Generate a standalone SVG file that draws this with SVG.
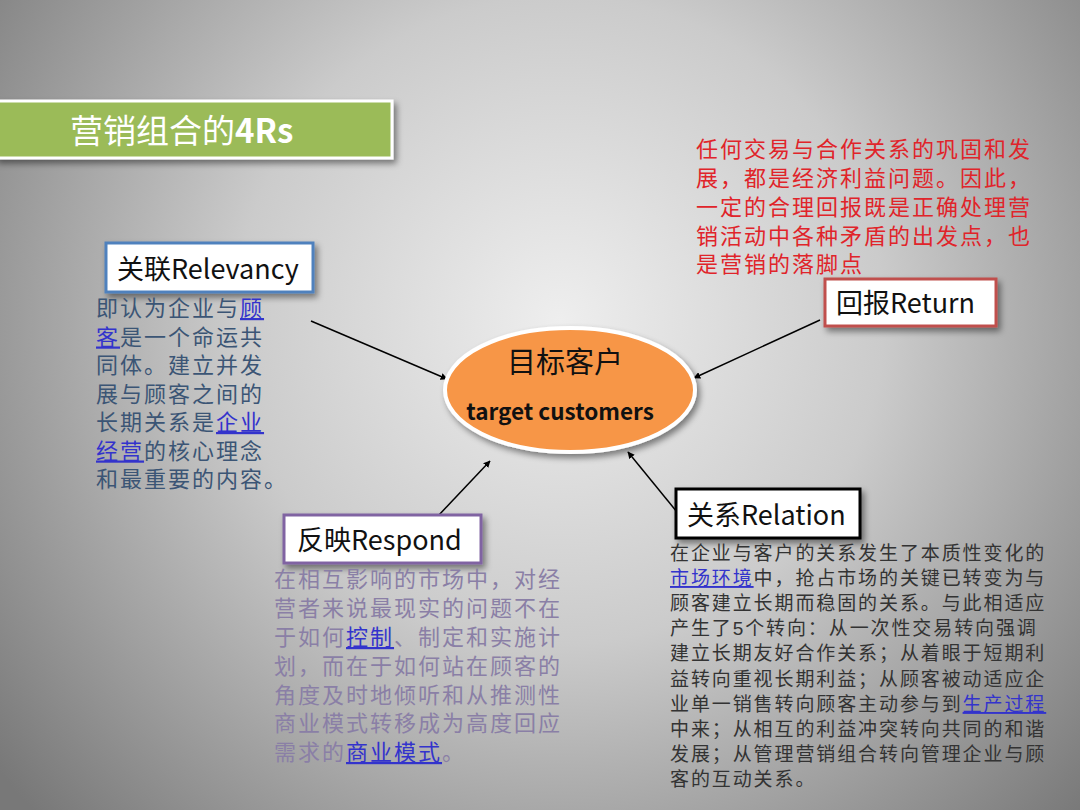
<svg xmlns="http://www.w3.org/2000/svg" width="1080" height="810" viewBox="0 0 1080 810">
<defs>
<radialGradient id="bg" gradientUnits="userSpaceOnUse" cx="560" cy="320" r="720">
<stop offset="0" stop-color="#eeeeee"/>
<stop offset="0.45" stop-color="#cbcbcb"/>
<stop offset="1" stop-color="#787878"/>
</radialGradient>
<filter id="sh" x="-10%" y="-10%" width="130%" height="140%">
<feDropShadow dx="3" dy="4" stdDeviation="3" flood-color="#000" flood-opacity="0.45"/>
</filter>
<marker id="ah" viewBox="0 0 10 10" refX="9" refY="5" markerWidth="7" markerHeight="7" orient="auto" markerUnits="userSpaceOnUse">
<path d="M0,0 L10,5 L0,10 z" fill="#000"/>
</marker>
<style>
.cjk{font-family:"Noto Sans CJK SC","Noto Sans",sans-serif;}
.lbl{font-family:"Noto Sans CJK SC","Noto Sans",sans-serif;font-size:27px;fill:#111;}
.box{fill:#fff;stroke-width:3;}
.body{font-family:"Liberation Sans","Noto Sans CJK SC",sans-serif;font-size:22px;letter-spacing:2px;}
.rel{font-family:"Liberation Sans","Noto Sans CJK SC",sans-serif;font-size:19px;letter-spacing:1.9px;fill:#333;}
.lnk{fill:#3333cc;text-decoration:underline;}
.con{stroke:#000;stroke-width:1.5;fill:none;marker-end:url(#ah);}
</style>
</defs>
<rect width="1080" height="810" fill="url(#bg)"/>

<g id="title">
<rect x="-4" y="101" width="396" height="57" fill="#9bbb59" stroke="#fff" stroke-width="3" filter="url(#sh)"/>
<text x="70" y="143" class="cjk" font-size="33" fill="#fff">营销组合的<tspan font-weight="bold">4Rs</tspan></text>
</g>

<g id="connectors">
<line class="con" x1="311" y1="321" x2="447" y2="379"/>
<line class="con" x1="820" y1="320" x2="694" y2="378"/>
<line class="con" x1="438" y1="516" x2="490" y2="461"/>
<line class="con" x1="677" y1="512" x2="628" y2="452"/>
</g>

<g id="target">
<ellipse cx="570" cy="390" rx="125" ry="62" fill="#f79646" stroke="#fff" stroke-width="4" filter="url(#sh)"/>
<text x="565" y="373" class="cjk" font-size="29" fill="#111" text-anchor="middle">目标客户</text>
<text x="560" y="420" class="cjk" font-size="22.5" font-weight="bold" fill="#111" text-anchor="middle">target customers</text>
</g>

<g id="relevancy">
<rect x="106" y="243" width="207" height="49" class="box" stroke="#4f81bd" filter="url(#sh)"/>
<text x="117" y="279" class="lbl">关联Relevancy</text>
<text class="body" fill="#3b5575">
<tspan x="96" y="316">即认为企业与<tspan class="lnk">顾</tspan></tspan>
<tspan x="96" y="344.5"><tspan class="lnk">客</tspan>是一个命运共</tspan>
<tspan x="96" y="373">同体。建立并发</tspan>
<tspan x="96" y="401.5">展与顾客之间的</tspan>
<tspan x="96" y="430">长期关系是<tspan class="lnk">企业</tspan></tspan>
<tspan x="96" y="458.5"><tspan class="lnk">经营</tspan>的核心理念</tspan>
<tspan x="96" y="487">和最重要的内容。</tspan>
</text>
</g>

<g id="return">
<text class="body" fill="#e0242a">
<tspan x="696" y="157">任何交易与合作关系的巩固和发</tspan>
<tspan x="696" y="186">展，都是经济利益问题。因此，</tspan>
<tspan x="696" y="215">一定的合理回报既是正确处理营</tspan>
<tspan x="696" y="244">销活动中各种矛盾的出发点，也</tspan>
<tspan x="696" y="272">是营销的落脚点</tspan>
</text>
<rect x="825" y="279" width="171" height="47" class="box" stroke="#c0504d" filter="url(#sh)"/>
<text x="836" y="313" class="lbl">回报Return</text>
</g>

<g id="respond">
<rect x="284" y="515" width="197" height="48" class="box" stroke="#8064a2" filter="url(#sh)"/>
<text x="297" y="550" class="lbl">反映Respond</text>
<text class="body" fill="#8a7fa6">
<tspan x="274" y="587">在相互影响的市场中，对经</tspan>
<tspan x="274" y="616">营者来说最现实的问题不在</tspan>
<tspan x="274" y="645">于如何<tspan class="lnk">控制</tspan>、制定和实施计</tspan>
<tspan x="274" y="674">划，而在于如何站在顾客的</tspan>
<tspan x="274" y="703">角度及时地倾听和从推测性</tspan>
<tspan x="274" y="731">商业模式转移成为高度回应</tspan>
<tspan x="274" y="760">需求的<tspan class="lnk">商业模式</tspan>。</tspan>
</text>
</g>

<g id="relation">
<rect x="676" y="489" width="184" height="49" class="box" stroke="#000" filter="url(#sh)"/>
<text x="687" y="525" class="lbl">关系Relation</text>
<text class="rel">
<tspan x="670" y="560">在企业与客户的关系发生了本质性变化的</tspan>
<tspan x="670" y="585"><tspan class="lnk">市场环境</tspan>中，抢占市场的关键已转变为与</tspan>
<tspan x="670" y="610">顾客建立长期而稳固的关系。与此相适应</tspan>
<tspan x="670" y="635">产生了5个转向：从一次性交易转向强调</tspan>
<tspan x="670" y="660">建立长期友好合作关系；从着眼于短期利</tspan>
<tspan x="670" y="686">益转向重视长期利益；从顾客被动适应企</tspan>
<tspan x="670" y="711">业单一销售转向顾客主动参与到<tspan class="lnk">生产过程</tspan></tspan>
<tspan x="670" y="736">中来；从相互的利益冲突转向共同的和谐</tspan>
<tspan x="670" y="761">发展；从管理营销组合转向管理企业与顾</tspan>
<tspan x="670" y="786">客的互动关系。</tspan>
</text>
</g>
</svg>
